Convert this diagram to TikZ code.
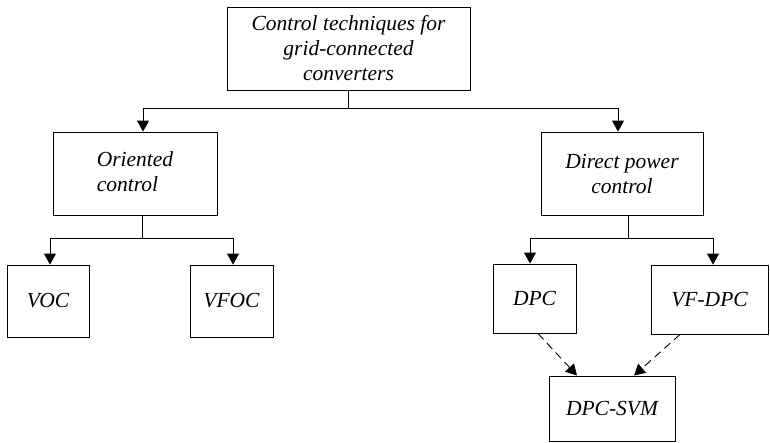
\documentclass[tikz,border=0pt]{standalone}
\usepackage{fontspec}
\setmainfont{Liberation Serif}
\usetikzlibrary{arrows.meta}
\begin{document}
\begin{tikzpicture}[x=1pt,y=-1pt,
  box/.style={draw, line width=0.9pt, align=center, inner sep=0pt,
    font=\fontsize{21.5}{25}\selectfont\itshape},
  conn/.style={line width=0.9pt},
  arr/.style={conn, -{Triangle[length=11pt,width=12pt]}},
  darr/.style={conn, dash pattern=on 8pt off 5pt, -{Triangle[length=11pt,width=12pt]}}]
\useasboundingbox (0,0) rectangle (770,442);
\node[box, minimum width=243pt, minimum height=83pt] (top) at (348.5,48.5) {Control techniques for\\grid-connected\\converters};
\node[box, minimum width=164pt, minimum height=83pt] (oc) at (135,173.5) {\begin{tabular}{@{}l@{}}Oriented\\control\end{tabular}};
\node[box, minimum width=162pt, minimum height=83pt] (dp) at (622,173.5) {Direct power\\control};
\node[box, minimum width=82pt, minimum height=72pt] (voc) at (48,301) {VOC};
\node[box, minimum width=83pt, minimum height=72pt] (vfoc) at (231.5,301) {VFOC};
\node[box, minimum width=83pt, minimum height=69pt] (dpc) at (534.5,298.5) {DPC};
\node[box, minimum width=117pt, minimum height=69pt] (vfdpc) at (709.5,299.5) {VF-DPC};
\node[box, minimum width=126pt, minimum height=65pt] (svm) at (612,408.5) {DPC-SVM};
\coordinate (j1) at (348.5,108);
\coordinate (j2) at (142,238);
\coordinate (j3) at (628,238);
\draw[conn] (top.south) -- (j1);
\draw[arr] (j1) -| ([xshift=8pt]oc.north);
\draw[arr] (j1) -| ([xshift=-4pt]dp.north);
\draw[conn] (oc.south -| j2) -- (j2);
\draw[arr] (j2) -| ([xshift=2pt]voc.north);
\draw[arr] (j2) -| ([xshift=1.5pt]vfoc.north);
\draw[conn] (dp.south -| j3) -- (j3);
\draw[arr] (j3) -| ([xshift=-4.5pt]dpc.north);
\draw[arr] (j3) -| ([xshift=3.5pt]vfdpc.north);
\draw[darr] ([xshift=3.5pt]dpc.south) -- ([xshift=-35pt]svm.north);
\draw[darr] ([xshift=-29.5pt]vfdpc.south) -- ([xshift=22pt]svm.north);
\end{tikzpicture}
\end{document}
